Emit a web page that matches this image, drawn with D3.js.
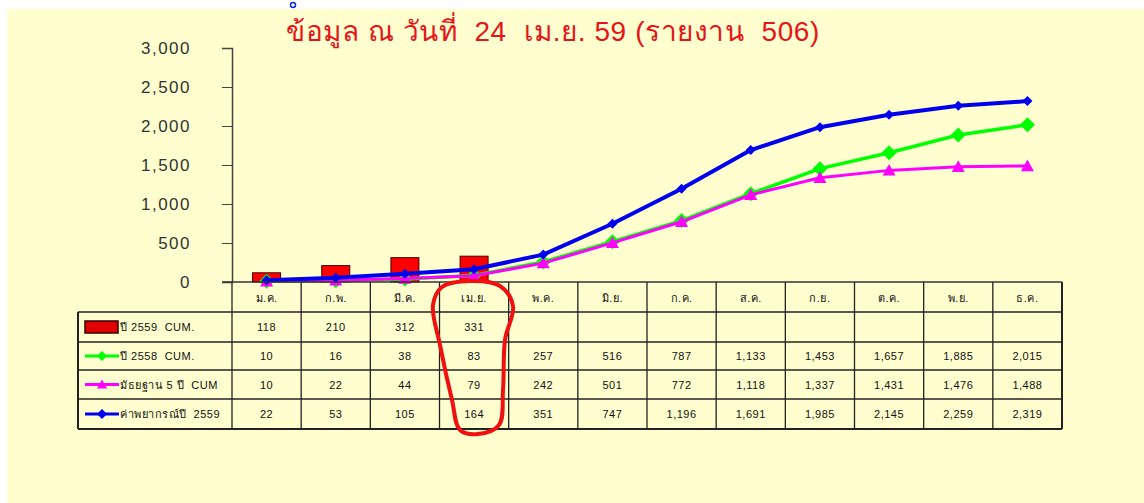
<!DOCTYPE html>
<html>
<head>
<meta charset="utf-8">
<script src="https://cdn.jsdelivr.net/npm/d3@7"></script>
<style>
  body { margin: 0; background: #fff; }
  text { font-family: "Liberation Sans", Arial, "DejaVu Sans", sans-serif; white-space: pre; }
</style>
</head>
<body>
<script>
var width = 1144,
    height = 503;

// data
var months = ["ม.ค.", "ก.พ.", "มี.ค.", "เม.ย.", "พ.ค.", "มิ.ย.", "ก.ค.", "ส.ค.", "ก.ย.", "ต.ค.", "พ.ย.", "ธ.ค."];
var cum2559 = [118, 210, 312, 331];
var cum2558 = [10, 16, 38, 83, 257, 516, 787, 1133, 1453, 1657, 1885, 2015];
var median5 = [10, 22, 44, 79, 242, 501, 772, 1118, 1337, 1431, 1476, 1488];
var forecast = [22, 53, 105, 164, 351, 747, 1196, 1691, 1985, 2145, 2259, 2319];
var seriesNames = ["ปี 2559  CUM.", "ปี 2558  CUM.", "มัธยฐาน 5 ปี  CUM", "ค่าพยากรณ์ปี  2559"];
var yTicks = [0, 500, 1000, 1500, 2000, 2500, 3000];
var title = "ข้อมูล ณ วันที่  24  เม.ย. 59 (รายงาน  506)";

var svg = d3.select("body")
    .append("svg")
    .attr("width", width)
    .attr("height", height);

// yellow background
svg.append("rect")
    .attr("x", 7).attr("y", 9)
    .attr("width", width - 7).attr("height", height - 9)
    .style("fill", "#fffecf");

// leftover blue mark above the title
svg.append("circle")
    .attr("cx", 293).attr("cy", 5).attr("r", 2.5)
    .style("fill", "none").style("stroke", "#1030c0").style("stroke-width", 1.5);

var x = d3.scaleBand().domain(months).range([232, 1062]).padding(0),
    y = d3.scaleLinear().domain([0, 3000]).range([282, 48]);

function cx(i) { return x(months[i]) + x.bandwidth() / 2; }

// title
svg.append("text")
    .attr("x", 553).attr("y", 41)
    .attr("text-anchor", "middle")
    .style("font-size", "28px")
    .style("letter-spacing", "0.6px")
    .style("fill", "#e8141b")
    .text(title);

// y axis
var yAxis = d3.axisLeft(y)
    .tickValues(yTicks)
    .tickSize(10)
    .tickPadding(31)
    .tickFormat(d3.format(","));

var ga = svg.append("g")
    .attr("transform", "translate(232,0)")
    .call(yAxis);
ga.select(".domain").style("stroke", "#444").style("stroke-width", 1.5);
ga.selectAll(".tick line").style("stroke", "#444");
ga.selectAll(".tick text")
    .style("font-size", "17px")
    .style("letter-spacing", "1.5px")
    .style("fill", "#333")
    .style("font-family", "'Liberation Sans', Arial, sans-serif");

// bars
var bw = 28;
svg.selectAll(".bar")
    .data(cum2559)
    .enter().append("rect")
        .attr("class", "bar")
        .attr("x", function(d, i) { return cx(i) - bw / 2; })
        .attr("y", function(d) { return y(d); })
        .attr("width", bw)
        .attr("height", function(d) { return y(0) - y(d); })
        .style("fill", "#ff0000")
        .style("stroke", "#400")
        .style("stroke-width", 1);

// lines
var line = d3.line()
    .x(function(d, i) { return cx(i); })
    .y(function(d) { return y(d); });

var series = [
    {values: cum2558, color: "#00ff00", width: 3.5, marker: "diamond", size: 15},
    {values: median5, color: "#ff00ff", width: 3, marker: "triangle", size: 13},
    {values: forecast, color: "#0000ee", width: 4, marker: "diamond", size: 10}
];

function markerPath(type, s) {
    var h = s / 2;
    if (type == "diamond") return "M0," + (-h) + "L" + h + ",0L0," + h + "L" + (-h) + ",0Z";
    return "M0," + (-h) + "L" + h + "," + (h * 0.8) + "L" + (-h) + "," + (h * 0.8) + "Z";
}

series.forEach(function(s) {
    svg.append("path")
        .datum(s.values)
        .attr("d", line)
        .style("fill", "none")
        .style("stroke", s.color)
        .style("stroke-width", s.width)
        .style("stroke-linejoin", "round");
    svg.selectAll(null)
        .data(s.values)
        .enter().append("path")
            .attr("transform", function(d, i) { return "translate(" + cx(i) + "," + y(d) + ")"; })
            .attr("d", markerPath(s.marker, s.size))
            .style("fill", s.color);
});

// data table
var rowTop = [282, 312, 342, 370, 399, 429],
    tableLeft = 78,
    tableRight = 1062;

var tbl = svg.append("g").style("stroke", "#222").style("stroke-width", 1.3);
// horizontal lines
rowTop.forEach(function(r, k) {
    if (k == 0) return;
    tbl.append("line")
        .attr("x1", tableLeft).attr("x2", tableRight)
        .attr("y1", r).attr("y2", r)
        .style("stroke-width", k == rowTop.length - 1 ? 2 : 1.3);
});
// vertical lines
tbl.append("line").attr("x1", tableLeft).attr("x2", tableLeft).attr("y1", 312).attr("y2", 429).style("stroke-width", 2);
months.forEach(function(m, i) {
    tbl.append("line")
        .attr("x1", x(m)).attr("x2", x(m))
        .attr("y1", 282).attr("y2", 429);
});
tbl.append("line").attr("x1", tableRight).attr("x2", tableRight).attr("y1", 282).attr("y2", 429).style("stroke-width", 2);
// x axis baseline
svg.append("line")
    .attr("x1", 222).attr("x2", tableRight)
    .attr("y1", y(0)).attr("y2", y(0))
    .style("stroke", "#333").style("stroke-width", 1.5);

// month headers
svg.selectAll(".mlab")
    .data(months)
    .enter().append("text")
        .attr("class", "mlab")
        .attr("x", function(d, i) { return cx(i); })
        .attr("y", 302)
        .attr("text-anchor", "middle")
        .style("font-size", "11px")
        .style("letter-spacing", "0.5px")
        .style("fill", "#111")
        .text(function(d) { return d; });

var rows = [cum2559, cum2558, median5, forecast];
var fmt = d3.format(",");
rows.forEach(function(vals, r) {
    var ym = (rowTop[r + 1] + rowTop[r + 2]) / 2 + 4;
    svg.selectAll(null)
        .data(vals)
        .enter().append("text")
            .attr("x", function(d, i) { return cx(i); })
            .attr("y", ym)
            .attr("text-anchor", "middle")
            .style("font-size", "11px")
            .style("letter-spacing", "0.5px")
            .style("fill", "#111")
            .text(function(d) { return fmt(d); });
    // legend key
    var lg = svg.append("g").attr("transform", "translate(0," + (ym - 4) + ")");
    if (r == 0) {
        lg.append("rect").attr("x", 85).attr("y", -6).attr("width", 33).attr("height", 12)
            .style("fill", "#e00000").style("stroke", "#300").style("stroke-width", 1.5);
    } else {
        var s = series[r - 1];
        lg.append("line").attr("x1", 85).attr("x2", 119).attr("y1", 0).attr("y2", 0)
            .style("stroke", s.color).style("stroke-width", 3);
        lg.append("path").attr("transform", "translate(102,0)")
            .attr("d", markerPath(s.marker, 10)).style("fill", s.color);
    }
    lg.append("text").attr("x", 120).attr("y", 4)
        .style("font-size", "11px").style("fill", "#111")
        .style("letter-spacing", "0.5px")
        .text(seriesNames[r]);
});

// hand-drawn red loop around April
var loop = [[442, 287], [470, 281], [500, 286], [513, 306], [505, 340], [503, 390], [499, 425], [478, 434], [460, 430], [452, 400], [440, 345], [433, 305]];
svg.append("path")
    .attr("d", d3.line().curve(d3.curveCatmullRomClosed)(loop))
    .style("fill", "none")
    .style("stroke", "#f01010")
    .style("stroke-width", 4);
</script>
</body>
</html>
